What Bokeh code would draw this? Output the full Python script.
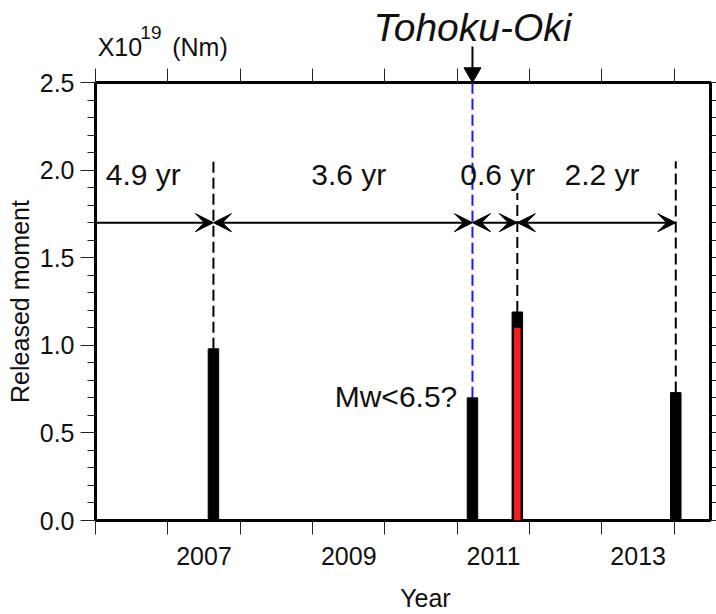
from bokeh.plotting import figure
from bokeh.models import (LinearAxis, FixedTicker, Range1d, Arrow, VeeHead,
                          NumeralTickFormatter)
from bokeh.embed import file_html
from bokeh.resources import INLINE
from bokeh.core.properties import value

# ---------------- data ----------------
event_year = [2007.63, 2011.21, 2011.83, 2014.02]
moment = [0.98, 0.70, 1.19, 0.73]           # x10^19 Nm
red_year = [2011.83]
red_moment = [1.10]
tohoku_year = 2011.21
dash_event_idx = [0, 2, 3]
dash_top = [2.05, 1.87, 2.05]
interval_labels = ["4.9 yr", "3.6 yr", "0.6 yr", "2.2 yr"]
interval_label_x = [2006.66, 2009.50, 2011.56, 2013.00]
interval_label_y = 1.975
arrow_y = 1.70
year_ticks = [2006, 2007, 2008, 2009, 2010, 2011, 2012, 2013, 2014]
year_label_pos = [2007.5, 2009.5, 2011.5, 2013.5]
year_labels = ["2007", "2009", "2011", "2013"]
y_ticks = [0.0, 0.5, 1.0, 1.5, 2.0, 2.5]
y_minor_ticks = [0.1, 0.2, 0.3, 0.4, 0.6, 0.7, 0.8, 0.9, 1.1, 1.2, 1.3, 1.4,
                 1.6, 1.7, 1.8, 1.9, 2.1, 2.2, 2.3, 2.4]

FONT = "Liberation Sans"
TXT = "#111111"

p = figure(width=716, height=614, x_range=Range1d(2006.0, 2014.5), y_range=Range1d(0, 2.5),
           output_backend="svg", toolbar_location=None,
           x_axis_location=None, y_axis_location=None,
           min_border_left=95, min_border_right=6, min_border_top=82, min_border_bottom=94)
p.grid.visible = False
p.outline_line_color = "black"
p.outline_line_width = 3
p.background_fill_color = "white"
p.border_fill_color = "white"

# bottom axis: ticks at year boundaries (minor), labels centred in the year intervals
xb = LinearAxis(ticker=FixedTicker(ticks=year_label_pos, minor_ticks=year_ticks),
                major_label_overrides={pos: lab for pos, lab in zip(year_label_pos, year_labels)},
                major_tick_out=0, major_tick_in=0, minor_tick_out=14, minor_tick_in=0,
                minor_tick_line_color="#222222", minor_tick_line_width=1,
                axis_line_color=None, major_label_standoff=12,
                major_label_text_font_size="25px", major_label_text_font=FONT,
                major_label_text_color=TXT)
p.add_layout(xb, "below")

# top axis: ticks only
xt = LinearAxis(ticker=FixedTicker(ticks=year_ticks, minor_ticks=[]),
                major_label_overrides={t: "" for t in year_ticks},
                major_tick_out=14, major_tick_in=0, major_tick_line_color="#222222",
                major_label_text_font_size="0px", major_label_standoff=0,
                axis_line_color=None)
p.add_layout(xt, "above")

# left axis
yl = LinearAxis(ticker=FixedTicker(ticks=y_ticks, minor_ticks=y_minor_ticks),
                formatter=NumeralTickFormatter(format="0.0"),
                major_tick_out=15, major_tick_in=0, minor_tick_out=8, minor_tick_in=0,
                major_tick_line_color="#222222", minor_tick_line_color="#222222",
                axis_line_color=None, major_label_standoff=6,
                major_label_text_font_size="25px", major_label_text_font=FONT,
                major_label_text_color=TXT,
                axis_label="Released moment", axis_label_text_font_size="25px",
                axis_label_text_font=FONT, axis_label_text_font_style="normal",
                axis_label_text_color=TXT, axis_label_standoff=3)
p.add_layout(yl, "left")

# right axis: ticks only
yr = LinearAxis(ticker=FixedTicker(ticks=y_ticks, minor_ticks=y_minor_ticks),
                major_label_overrides={t: "" for t in y_ticks},
                major_tick_out=6, major_tick_in=0, minor_tick_out=6, minor_tick_in=0,
                major_tick_line_color="#222222", minor_tick_line_color="#222222",
                major_label_text_font_size="0px", major_label_standoff=0,
                axis_line_color=None)
p.add_layout(yr, "right")

# dashed guide lines
p.segment(x0=[event_year[i] for i in dash_event_idx], y0=[moment[i] for i in dash_event_idx],
          x1=[event_year[i] for i in dash_event_idx], y1=dash_top,
          line_color="black", line_width=2, line_dash="11 5")
p.segment(x0=[tohoku_year], y0=[moment[1]], x1=[tohoku_year], y1=[p.y_range.end],
          line_color="#1a1aff", line_width=2, line_dash="11 5")

# bars
p.vbar(x=event_year, top=moment, bottom=0, width=0.145, fill_color="black", line_color="black")
p.vbar(x=red_year, top=red_moment, bottom=0, width=0.09, fill_color="#f42020", line_color=None)

# interval arrows
bounds = [p.x_range.start, event_year[0], tohoku_year, event_year[2], event_year[3]]
for k in range(4):
    start = None if k == 0 else VeeHead(size=18, fill_color="black", line_color="black", line_width=1)
    p.add_layout(Arrow(x_start=bounds[k], y_start=arrow_y, x_end=bounds[k + 1], y_end=arrow_y,
                       start=start,
                       end=VeeHead(size=18, fill_color="black", line_color="black", line_width=1),
                       line_color="black", line_width=2))

p.text(x=interval_label_x, y=[interval_label_y] * 4, text=interval_labels,
       text_font=value(FONT), text_font_size="30px", text_color=TXT,
       text_align="center", text_baseline="alphabetic")

p.text(x=[tohoku_year - 0.21], y=[0.708], text=["Mw<6.5?"],
       text_font=value(FONT), text_font_size="30px", text_color=TXT,
       text_align="right", text_baseline="alphabetic")

# ---- texts and marks outside the frame (overlay level: not clipped) ----
p.text(x=[tohoku_year], y=[2.815], text=["Tohoku-Oki"], level="overlay",
       text_font=value(FONT), text_font_size="39px", text_font_style="italic",
       text_color=TXT, text_align="center", text_baseline="alphabetic")
p.segment(x0=[tohoku_year], y0=[2.705], x1=[tohoku_year], y1=[2.53], level="overlay",
          line_color="black", line_width=2)
p.scatter(x=[tohoku_year], y=[2.556], marker="inverted_triangle", size=17, level="overlay",
          fill_color="black", line_color="black")

p.text(x=[2006.03], y=[2.70], text=["X10"], level="overlay",
       text_font=value(FONT), text_font_size="25px", text_color=TXT,
       text_align="left", text_baseline="alphabetic")
p.text(x=[2006.62], y=[2.785], text=["19"], level="overlay",
       text_font=value(FONT), text_font_size="19px", text_color=TXT,
       text_align="left", text_baseline="alphabetic")
p.text(x=[2007.06], y=[2.70], text=["(Nm)"], level="overlay",
       text_font=value(FONT), text_font_size="25px", text_color=TXT,
       text_align="left", text_baseline="alphabetic")

p.text(x=[2010.56], y=[-0.445], text=["Year"], level="overlay",
       text_font=value(FONT), text_font_size="25px", text_color=TXT,
       text_align="center", text_baseline="alphabetic")

open("out.html", "w").write(file_html(p, INLINE))
